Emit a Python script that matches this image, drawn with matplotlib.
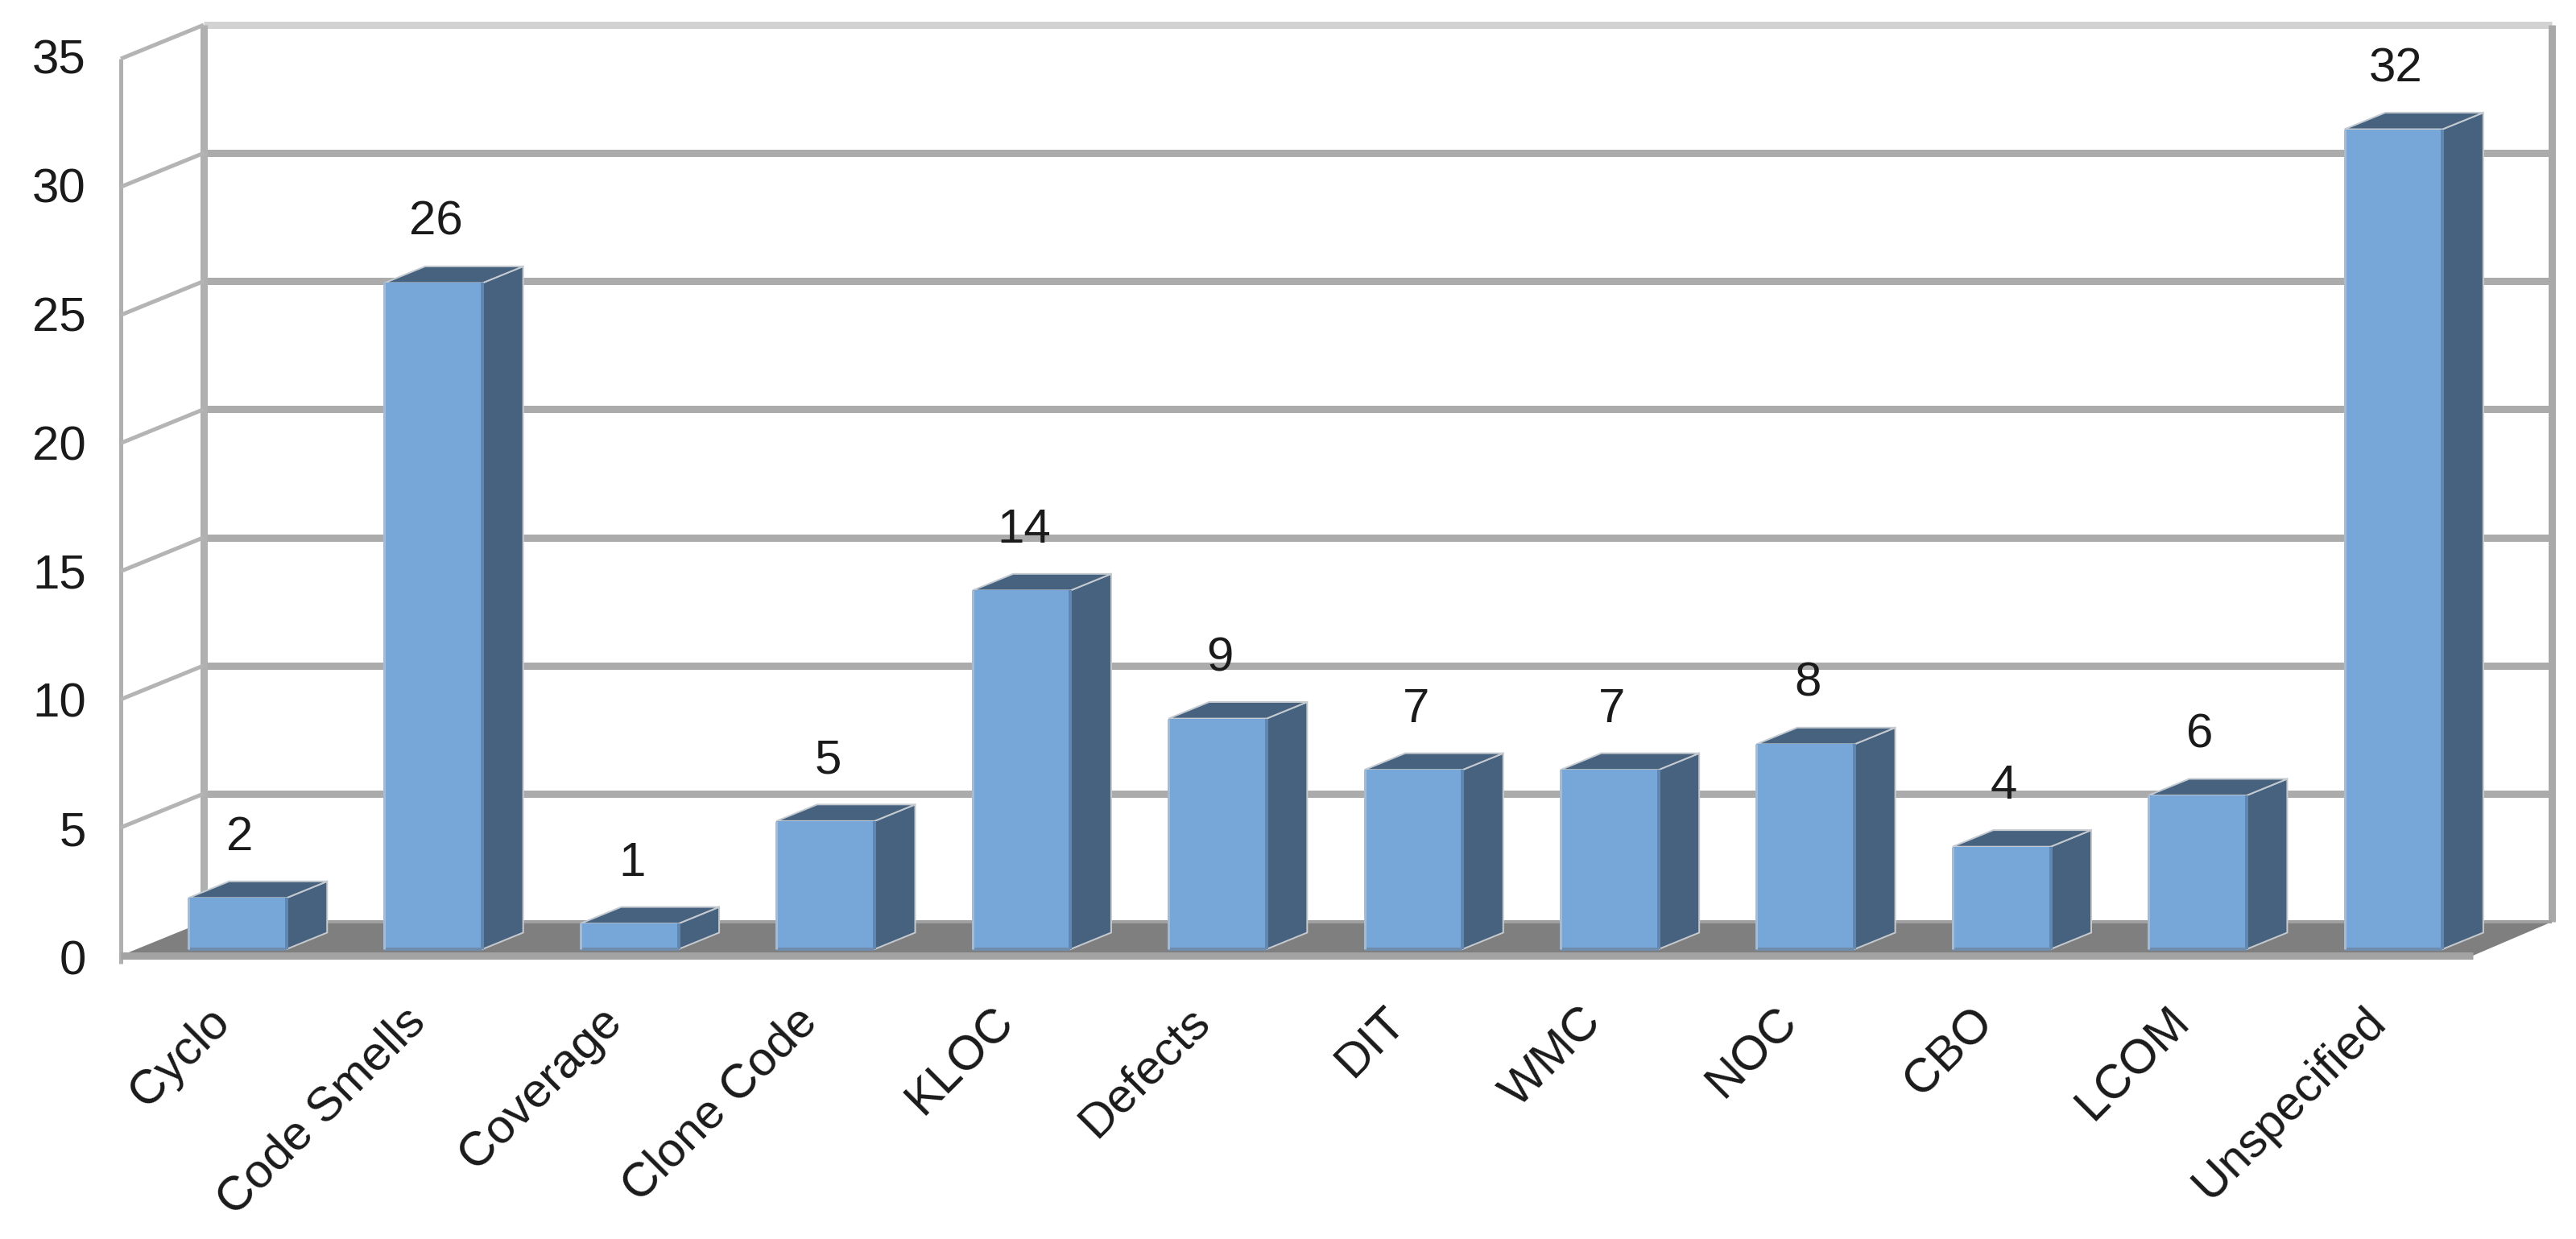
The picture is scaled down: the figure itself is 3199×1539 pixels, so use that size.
#!/usr/bin/env python3
import matplotlib
matplotlib.use("Agg")
import matplotlib.pyplot as pl
from matplotlib.patches import Polygon

categories = ['Cyclo', 'Code Smells', 'Coverage', 'Clone Code', 'KLOC', 'Defects',
              'DIT', 'WMC', 'NOC', 'CBO', 'LCOM', 'Unspecified']
values = [2, 26, 1, 5, 14, 9, 7, 7, 8, 4, 6, 32]
y_ticks = [0, 5, 10, 15, 20, 25, 30, 35]

W, H = 3199, 1539
DPI = 100
PX = 72.0 / DPI

#front plane of the chart box in pixels
left, right = 150, 3071
top, bottom = 73, 1187

#depth of the box, in data units
depth_x = 103 / ((right - left) / 12.0)
depth_y = 42 / ((bottom - top) / 35.0)
#back wall stops a little short on the right
back_right = 11.5 - 0.02

#bars sit part way into the box
bar_w = 0.5
bar_shift = 0.015
d_front = 0.19
d_back = 0.68

front_col = '#77a6d9'
side_col = '#46627f'
grid_col = '#ababab'
floor_col = '#7f7f7f'


def pr(x, y, d=0.0):
    return (x + d * depth_x, y + d * depth_y)


pl.rcParams['font.family'] = ['Liberation Sans', 'DejaVu Sans']

fig = pl.figure(figsize=(W / DPI, H / DPI), dpi=DPI, facecolor='white')
ax = fig.add_axes([left / W, 1 - bottom / H, (right - left) / W, (bottom - top) / H])
ax.set_xlim(-0.5, 11.5)
ax.set_ylim(0, 35)
ax.axis('off')


def line(p, q, lw, col=grid_col, z=1):
    ax.plot([p[0], q[0]], [p[1], q[1]], color=col, lw=lw * PX, zorder=z,
            clip_on=False, solid_capstyle='butt')


x0, x1 = -0.5, 11.5

#walls
for t in y_ticks[1:-1]:
    line(pr(x0, t, 1), pr(back_right, t, 1), 9)
line(pr(x0, 35, 1), pr(back_right, 35, 1), 9, '#d2d2d2')
line(pr(x0, 0, 1), pr(x0, 35, 1), 9, '#b0b0b0', 2)
line(pr(back_right, 0, 1), pr(back_right, 35, 1), 9, '#a9a9a9', 2)
line(pr(x0, -0.3), pr(x0, 35), 5, '#b0b0b0', 2)
for t in y_ticks[1:]:
    line(pr(x0, t), pr(x0, t, 1), 5, '#b4b4b4', 2)

#floor
ax.add_patch(Polygon([pr(x0, 0), pr(x0, 0, 1), pr(back_right, 0, 1), pr(x1, 0)],
                     closed=True, fc=floor_col, ec='none', zorder=3, clip_on=False))
line(pr(x0, 0, 1), pr(back_right, 0, 1), 4, '#a0a0a0', 4)
line(pr(x0, 0), pr(x1, 0), 9, '#a3a3a3', 4)

#bars
for i, v in enumerate(values):
    a, b = i + bar_shift - bar_w / 2, i + bar_shift + bar_w / 2
    side = [pr(b, 0, d_front), pr(b, 0, d_back), pr(b, v, d_back), pr(b, v, d_front)]
    cap = [pr(a, v, d_front), pr(a, v, d_back), pr(b, v, d_back), pr(b, v, d_front)]
    ax.add_patch(Polygon(side, closed=True, fc=side_col, ec='#c4cad0', lw=2 * PX,
                         zorder=5, clip_on=False))
    ax.add_patch(Polygon(cap, closed=True, fc=side_col, ec='#c4cad0', lw=2 * PX,
                         zorder=5, clip_on=False))
    fx, fy = pr(a, 0, d_front)
    ax.bar(fx, v, width=bar_w, bottom=fy, align='edge', color=front_col,
           edgecolor='none', zorder=6, clip_on=False)
    line(pr(b, 0, d_front), pr(b, v, d_front), 4, '#5f87b3', 7)
    line(pr(a, 0, d_front), pr(b, 0, d_front), 4, '#6f8cad', 7)
    line(pr(a, 0, d_front), pr(a, v, d_front), 3, '#a9bacd', 7)
    cx, cy = pr(i + bar_shift, v, d_front)
    ax.annotate(str(v), xy=(cx, cy), xytext=(3 * PX, 75 * PX), textcoords='offset points',
                ha='center', va='center', fontsize=60 * PX, color='#1a1a1a', zorder=8,
                annotation_clip=False)

#value axis labels, a bit wider spaced than the axis itself
for t in y_ticks:
    ax.annotate(str(t), xy=(x0, t), xytext=(-43 * PX, (-8 + t / 7.0) * PX), textcoords='offset points',
                ha='right', va='center', fontsize=60 * PX, color='#1a1a1a',
                annotation_clip=False)

#category labels
for i, c in enumerate(categories):
    ax.annotate(c, xy=(i, 0), xytext=(-15 * PX, -54 * PX), textcoords='offset points',
                ha='right', va='top', rotation=45, rotation_mode='anchor',
                fontsize=60 * PX, color='#1a1a1a', annotation_clip=False)

fig.savefig('out.png', dpi=DPI)
